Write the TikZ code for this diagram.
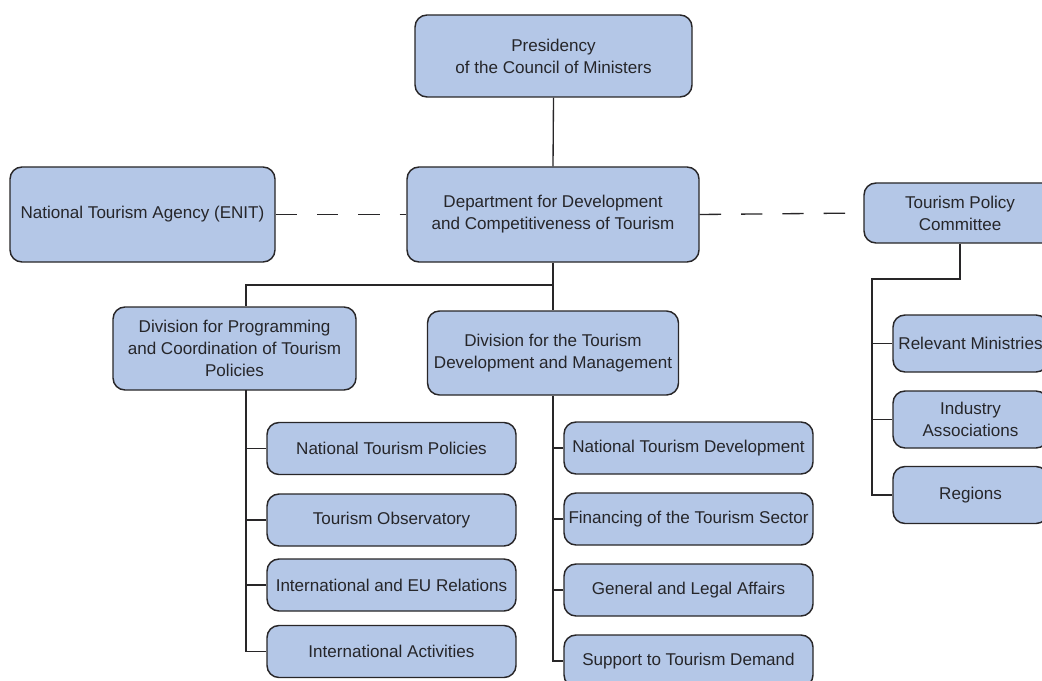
\documentclass[tikz,border=0pt]{standalone}
\usepackage{fontspec}
\setmainfont{Liberation Sans}
\definecolor{boxfill}{RGB}{180,199,231}
\definecolor{boxline}{RGB}{40,38,40}
\definecolor{txt}{RGB}{38,38,42}
\begin{document}
\begin{tikzpicture}[x=0.75pt,y=-0.75pt,
  ob/.style={draw=boxline, line width=1.1pt, fill=boxfill, rounded corners=9pt,
    inner sep=0pt, align=center, text=txt,
    font=\fontsize{12.8}{16.5}\selectfont},
  conn/.style={draw=boxline, line width=1pt},
  dconn/.style={draw=boxline, line width=1pt, dash pattern=on 16pt off 15pt}]
\useasboundingbox (0,0) rectangle (1042,681);
\begin{scope}
\clip (0,0) rectangle (1042,681);
% top
\node[ob, minimum width=207.75pt, minimum height=61.5pt] (pres) at (553.5,56) {Presidency\\of the Council of Ministers};
\node[ob, minimum width=219pt, minimum height=71.25pt] (dept) at (553,214.5) {Department for Development\\and Competitiveness of Tourism};
\node[ob, minimum width=198.75pt, minimum height=71.25pt] (enit) at (142.5,214.5) {National Tourism Agency (ENIT)};
\node[ob, minimum width=144pt, minimum height=45pt] (tpc) at (960,213) {Tourism Policy\\Committee};
% divisions
\node[ob, minimum width=182.25pt, minimum height=62.25pt] (div1) at (234.5,348.5) {Division for Programming\\and Coordination of Tourism\\Policies};
\node[ob, minimum width=188.25pt, minimum height=63pt] (div2) at (553,353) {Division for the Tourism\\Development and Management};
% left children
\node[ob, minimum width=186.75pt, minimum height=39pt] (l1) at (391.5,448.5) {National Tourism Policies};
\node[ob, minimum width=186.75pt, minimum height=39pt] (l2) at (391.5,520) {Tourism Observatory};
\node[ob, minimum width=186.75pt, minimum height=39pt] (l3) at (391.5,585) {International and EU Relations};
\node[ob, minimum width=186.75pt, minimum height=39pt] (l4) at (391.5,651.5) {International Activities};
% right children
\node[ob, minimum width=186.75pt, minimum height=39pt] (r1) at (688.5,448) {National Tourism Development};
\node[ob, minimum width=186.75pt, minimum height=39pt] (r2) at (688.5,519) {Financing of the Tourism Sector};
\node[ob, minimum width=186.75pt, minimum height=39pt] (r3) at (688.5,590) {General and Legal Affairs};
\node[ob, minimum width=186.75pt, minimum height=39pt] (r4) at (688.5,661) {Support to Tourism Demand};
% committee children
\node[ob, minimum width=116.25pt, minimum height=42.75pt] (c1) at (970.5,343.5) {Relevant Ministries};
\node[ob, minimum width=116.25pt, minimum height=42.75pt] (c2) at (970.5,419.5) {Industry\\Associations};
\node[ob, minimum width=116.25pt, minimum height=42.75pt] (c3) at (970.5,495) {Regions};
% connectors
\draw[conn] (pres.south) -- (dept.north);
\draw[dconn] (enit.east) -- (dept.west);
\draw[dconn] (dept.east) -- (tpc.west);
\coordinate (j1) at (246,285);
\draw[conn] (dept.south) -- (div2.north);
\draw[conn] (j1 -| dept.south) -- (j1) -- (j1 |- div1.north);
\coordinate (s1) at (246,390);
\draw[conn] (s1) -- (s1 |- l4.west) -- (l4.west);
\draw[conn] (l1.west) -- (l1.west -| s1);
\draw[conn] (l2.west) -- (l2.west -| s1);
\draw[conn] (l3.west) -- (l3.west -| s1);
\coordinate (s2) at (553,395);
\draw[conn] (div2.south) -- (s2 |- r4.west) -- (r4.west);
\draw[conn] (r1.west) -- (r1.west -| s2);
\draw[conn] (r2.west) -- (r2.west -| s2);
\draw[conn] (r3.west) -- (r3.west -| s2);
\coordinate (j3) at (872,279);
\draw[conn] (tpc.south) -- (tpc.south |- j3) -- (j3) -- (j3 |- c3.west) -- (c3.west);
\draw[conn] (c1.west) -- (c1.west -| j3);
\draw[conn] (c2.west) -- (c2.west -| j3);
\end{scope}
\end{tikzpicture}
\end{document}
